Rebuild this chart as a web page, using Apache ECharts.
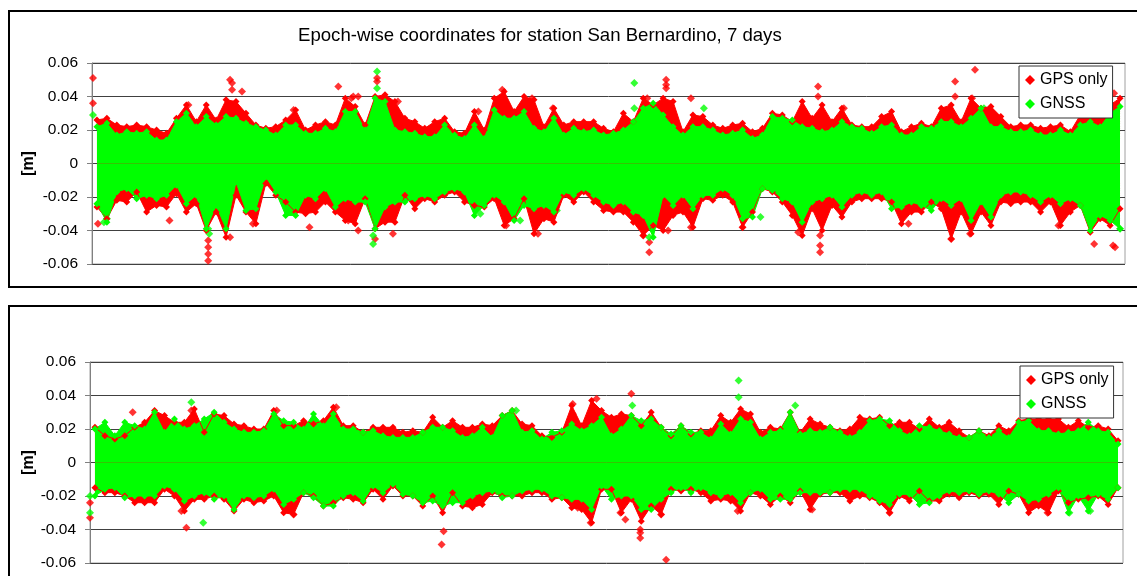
<!DOCTYPE html>
<html><head><meta charset="utf-8">
<script src="https://cdn.jsdelivr.net/npm/echarts/dist/echarts.min.js"></script>
<style>html,body{margin:0;padding:0;background:#fff}#c{width:1137px;height:576px}</style>
</head><body><div id="c"></div>
<script>
const titleText = 'Epoch-wise coordinates for station San Bernardino, 7 days';
const seriesNames = ['GPS only', 'GNSS'];
const yTicks = [-0.06, -0.04, -0.02, 0, 0.02, 0.04, 0.06];
const binCount = 104;

// values in millimetres, read per time bin (upper / lower edge of the dense cloud)
const topGpsHi = [26,27,23,22,23,22,20,18,27,35,25,35,26,38,37,30,23,21,22,26,32,20,23,25,23,39,
  34,23,40,41,37,27,25,21,25,27,19,18,31,20,39,43,31,40,38,22,33,23,25,25,25,21,
  19,30,25,39,35,39,37,19,29,28,23,21,23,24,19,21,30,29,25,37,27,35,25,33,23,22,
  22,28,31,19,22,24,22,33,35,25,39,33,34,28,22,23,23,21,22,23,19,29,31,29,35,39];
const topGpsLo = [-26,-33,-22,-23,-17,-29,-25,-26,-18,-29,-24,-40,-29,-44,-19,-29,-36,-12,-19,-23,-29,-30,-29,-23,-29,-34,
  -36,-21,-39,-35,-35,-19,-27,-21,-23,-19,-17,-23,-25,-26,-21,-37,-33,-21,-42,-33,-35,-19,-23,-17,-23,-28,
  -29,-29,-35,-43,-37,-40,-31,-29,-38,-21,-22,-19,-23,-38,-29,-15,-17,-23,-31,-43,-27,-40,-25,-32,-23,-21,
  -21,-21,-23,-36,-29,-29,-23,-27,-45,-29,-42,-29,-37,-23,-24,-23,-23,-29,-23,-37,-29,-25,-41,-33,-37,-27];
const topGnssHi = [22,24,17,19,18,19,14,14,25,30,22,28,23,28,27,24,22,20,17,23,23,18,18,21,19,31,
  31,20,39,37,20,19,18,16,16,23,17,15,23,15,32,27,27,31,21,19,27,17,21,19,20,17,
  18,20,25,33,36,29,22,17,22,22,20,17,18,20,15,17,28,27,26,22,21,19,20,25,22,21,
  18,22,23,17,17,22,21,25,25,22,27,33,22,22,19,19,20,17,17,20,17,23,25,22,30,34];
const topGnssLo = [-24,-35,-17,-15,-21,-19,-21,-19,-13,-24,-19,-39,-25,-39,-11,-28,-27,-8,-17,-31,-31,-19,-21,-15,-26,-21,
  -23,-23,-39,-26,-23,-23,-21,-19,-21,-17,-15,-17,-31,-25,-19,-23,-34,-25,-27,-25,-29,-17,-19,-15,-19,-23,
  -25,-23,-29,-31,-44,-19,-25,-19,-27,-19,-19,-15,-19,-33,-32,-15,-16,-21,-23,-35,-23,-21,-19,-26,-19,-17,
  -19,-17,-27,-26,-23,-25,-28,-21,-25,-21,-34,-23,-32,-19,-17,-17,-19,-23,-19,-24,-21,-25,-40,-31,-34,-39];
// isolated points: [bin position, mm]
const topGpsOut = [[0.1,51],[0.1,36],[0.6,-36],[7.8,-34],[9.7,35],[11.7,-46],[11.7,-50],[11.7,-54],[11.7,-58],[13.9,50],[14.1,48],[14.1,44],[15.1,43],[13.9,-44],[16.2,-36],[20.3,32],[21.9,-38],[24.8,46],[25.8,-34],[26.1,39],
  [26.3,40],[26.8,40],[26.8,-40],[28.7,51],[28.7,49],[28.5,-45],[30.3,-42],[30.8,37],[38.9,31],[41.3,44],[41.7,-37],[44.3,39],[44.9,-42],[46.4,33],
  [55.9,39],[55.5,-43],[56.1,-47],[56.1,-53],[57.8,50],[57.8,47],[57.8,45],[58.0,-40],[60.3,39],[60.3,-38],[65.5,-38],[71.1,-41],[73.1,46],[73.1,40],[73.3,-43],[73.3,-49],[73.3,-53],[75.7,33],
  [86.9,49],[86.9,40],[86.5,-45],[88.9,56],[88.6,39],[88.4,-42],[82.2,-36],[97.3,-37],[100.9,-48],[102.9,42],[103.0,-50],[102.8,-49]];
const topGnssOut = [[0.1,29],[1.2,-35],[1.5,-33],[11.7,-39],[11.8,-42],[28.7,55],[28.7,45],[28.3,-43],[28.3,-48],[39.1,-30],[43.1,-34],[46.8,-28],[54.6,48],[54.6,33],[56.1,-44],[61.6,33],[67.3,-32],[75.5,-26],[89.8,33],[103.5,-39]];

const botGpsHi = [21,16,14,16,21,24,31,28,24,24,32,18,29,28,23,22,20,20,31,22,22,25,23,25,33,22,
  22,18,21,21,21,18,19,18,27,21,25,21,21,23,22,28,31,23,22,16,15,18,34,22,37,31,
  27,29,28,22,30,21,16,22,17,19,19,28,24,32,29,18,21,20,30,18,26,23,21,19,20,27,
  26,27,22,24,24,20,26,21,24,19,15,19,16,22,19,25,26,26,26,26,21,25,21,22,20,13];
const botGpsLo = [-15,-18,-18,-20,-24,-24,-24,-16,-20,-29,-22,-22,-20,-22,-29,-22,-24,-23,-20,-30,-31,-18,-20,-26,-24,-21,
  -22,-24,-16,-22,-14,-20,-20,-26,-20,-30,-18,-26,-27,-25,-18,-20,-20,-20,-18,-18,-22,-21,-27,-28,-36,-16,
  -16,-30,-22,-35,-26,-31,-16,-17,-16,-18,-23,-22,-23,-29,-18,-20,-25,-20,-24,-17,-28,-19,-18,-18,-23,-20,
  -21,-24,-30,-20,-23,-17,-23,-23,-19,-21,-18,-20,-19,-25,-17,-19,-30,-26,-30,-17,-24,-22,-21,-20,-25,-15];
const botGnssHi = [20,24,16,24,22,20,30,18,26,20,22,26,30,24,20,18,18,19,29,25,24,20,29,22,29,20,
  20,18,19,16,15,15,15,18,21,21,19,15,16,21,15,28,31,18,19,14,18,19,23,19,22,27,
  16,20,28,25,26,21,17,22,18,18,14,23,17,26,24,14,18,19,30,17,19,18,21,18,15,18,
  25,26,25,19,16,22,21,19,17,15,15,19,15,19,15,24,25,19,19,17,18,19,24,19,18,11];
const botGnssLo = [-20,-16,-15,-21,-20,-20,-20,-14,-16,-23,-20,-18,-22,-20,-28,-20,-21,-20,-16,-25,-22,-18,-21,-26,-26,-20,
  -18,-23,-14,-18,-13,-19,-20,-24,-23,-26,-24,-24,-20,-18,-17,-21,-20,-17,-16,-16,-20,-21,-22,-22,-28,-14,
  -22,-20,-20,-28,-28,-22,-18,-15,-18,-15,-18,-20,-18,-24,-18,-16,-22,-22,-22,-18,-18,-18,-18,-16,-16,-16,
  -20,-23,-25,-19,-19,-25,-24,-20,-17,-18,-17,-19,-17,-19,-24,-19,-23,-22,-19,-15,-30,-20,-29,-19,-22,-15];
const botGpsOut = [[0.0,-24],[0.0,-33],[4.3,30],[9.7,-39],[9.2,-29],[10.2,31],[18.8,31],[20.5,-31],[24.8,33],[35.6,-41],[35.4,-49],[48.6,35],[48.6,29],[51.0,38],[50.4,-36],[49.1,-27],[54.5,41],[55.4,-40],[55.4,-42],[55.4,-45],[53.4,-30],[53.9,-34],[58.0,-58],[57.5,-31],[72.7,-28],[65.2,-29],[80.5,-30],[96.4,-30]];
const botGnssOut = [[0.0,-30],[0.0,-20],[11.4,-36],[10.2,36],[42.9,31],[54.6,34],[65.3,49],[65.3,39],[71.0,34],[100.7,-29],[98.6,-30]];

const RED = '#ff0000', GREEN = '#00ff00';
const FONT = 'Liberation Sans, Arial, sans-serif';

function band(arr) { return arr.map((v, i) => [i + 0.5, v / 1000]); }
function pts(arr) { return arr.map(p => [p[0], p[1] / 1000]); }

function areaSeries(name, color, arr, g) {
  return { type: 'line', name: name, xAxisIndex: g, yAxisIndex: g, data: band(arr),
    symbol: 'diamond', symbolSize: 7, showSymbol: true, showAllSymbol: true,
    lineStyle: { width: 1, color: color }, itemStyle: { color: color },
    areaStyle: { color: color, opacity: 1 }, silent: true, animation: false };
}
function scatterSeries(name, color, arr, g) {
  return { type: 'scatter', name: name, xAxisIndex: g, yAxisIndex: g, data: pts(arr),
    symbol: 'diamond', symbolSize: 8, itemStyle: { color: color }, silent: true, animation: false };
}
function yAx(g, gap) {
  return { gridIndex: g, type: 'value', min: yTicks[0], max: yTicks[yTicks.length - 1], interval: 0.02,
    axisLine: { show: true, lineStyle: { color: '#808080', width: 1 } },
    axisTick: { show: true, inside: false, length: 5, lineStyle: { color: '#808080' } },
    axisLabel: { color: '#000', fontSize: 15.5, fontFamily: FONT, margin: 14,
      formatter: v => Math.abs(v) < 1e-9 ? '0' : v.toFixed(2) },
    splitLine: { show: true, lineStyle: { color: '#404040', width: 1 } },
    name: '[m]', nameLocation: 'middle', nameGap: gap, nameMoveOverlap: false,
    nameTextStyle: { color: '#000', fontSize: 16, fontWeight: 'bold', fontFamily: FONT } };
}
function legendAt(left, top) {
  return { data: seriesNames, orient: 'vertical', left: left, top: top, padding: [6, 5, 6, 6],
    itemGap: 8, itemWidth: 10, itemHeight: 10, itemTextGap: 5, icon: 'diamond', selectedMode: false,
    backgroundColor: '#fff', borderColor: '#333', borderWidth: 1,
    textStyle: { color: '#000', fontSize: 16, fontFamily: FONT } };
}

const chart = echarts.init(document.getElementById('c'));
chart.setOption({
  animation: false,
  backgroundColor: '#fff',
  title: { text: titleText, left: 298, top: 26, padding: 0,
    textStyle: { color: '#000', fontSize: 18.6, fontWeight: 'normal', fontFamily: FONT } },
  legend: [legendAt(1019, 66), legendAt(1020, 366)],
  grid: [
    { left: 92, top: 63, width: 1033, height: 201, show: true, borderColor: '#a0a0a0', borderWidth: 1, outerBoundsMode: 'none' },
    { left: 90, top: 362, width: 1033, height: 201, show: true, borderColor: '#a0a0a0', borderWidth: 1, outerBoundsMode: 'none' }
  ],
  xAxis: [
    { gridIndex: 0, type: 'value', min: 0, max: binCount, show: false },
    { gridIndex: 1, type: 'value', min: 0, max: binCount, show: false }
  ],
  yAxis: [yAx(0, 55), yAx(1, 53)],
  series: [
    areaSeries(seriesNames[0], RED, topGpsHi, 0),
    areaSeries(seriesNames[0], RED, topGpsLo, 0),
    scatterSeries(seriesNames[0], RED, topGpsOut, 0),
    areaSeries(seriesNames[1], GREEN, topGnssHi, 0),
    areaSeries(seriesNames[1], GREEN, topGnssLo, 0),
    scatterSeries(seriesNames[1], GREEN, topGnssOut, 0),
    areaSeries(seriesNames[0], RED, botGpsHi, 1),
    areaSeries(seriesNames[0], RED, botGpsLo, 1),
    scatterSeries(seriesNames[0], RED, botGpsOut, 1),
    areaSeries(seriesNames[1], GREEN, botGnssHi, 1),
    areaSeries(seriesNames[1], GREEN, botGnssLo, 1),
    scatterSeries(seriesNames[1], GREEN, botGnssOut, 1)
  ],
  graphic: [
    { type: 'rect', shape: { x: 9, y: 11, width: 1140, height: 276 }, style: { fill: 'none', stroke: '#000', lineWidth: 2 }, silent: true },
    { type: 'rect', shape: { x: 9, y: 306, width: 1140, height: 400 }, style: { fill: 'none', stroke: '#000', lineWidth: 2 }, silent: true }
  ]
});
</script>
</body></html>
